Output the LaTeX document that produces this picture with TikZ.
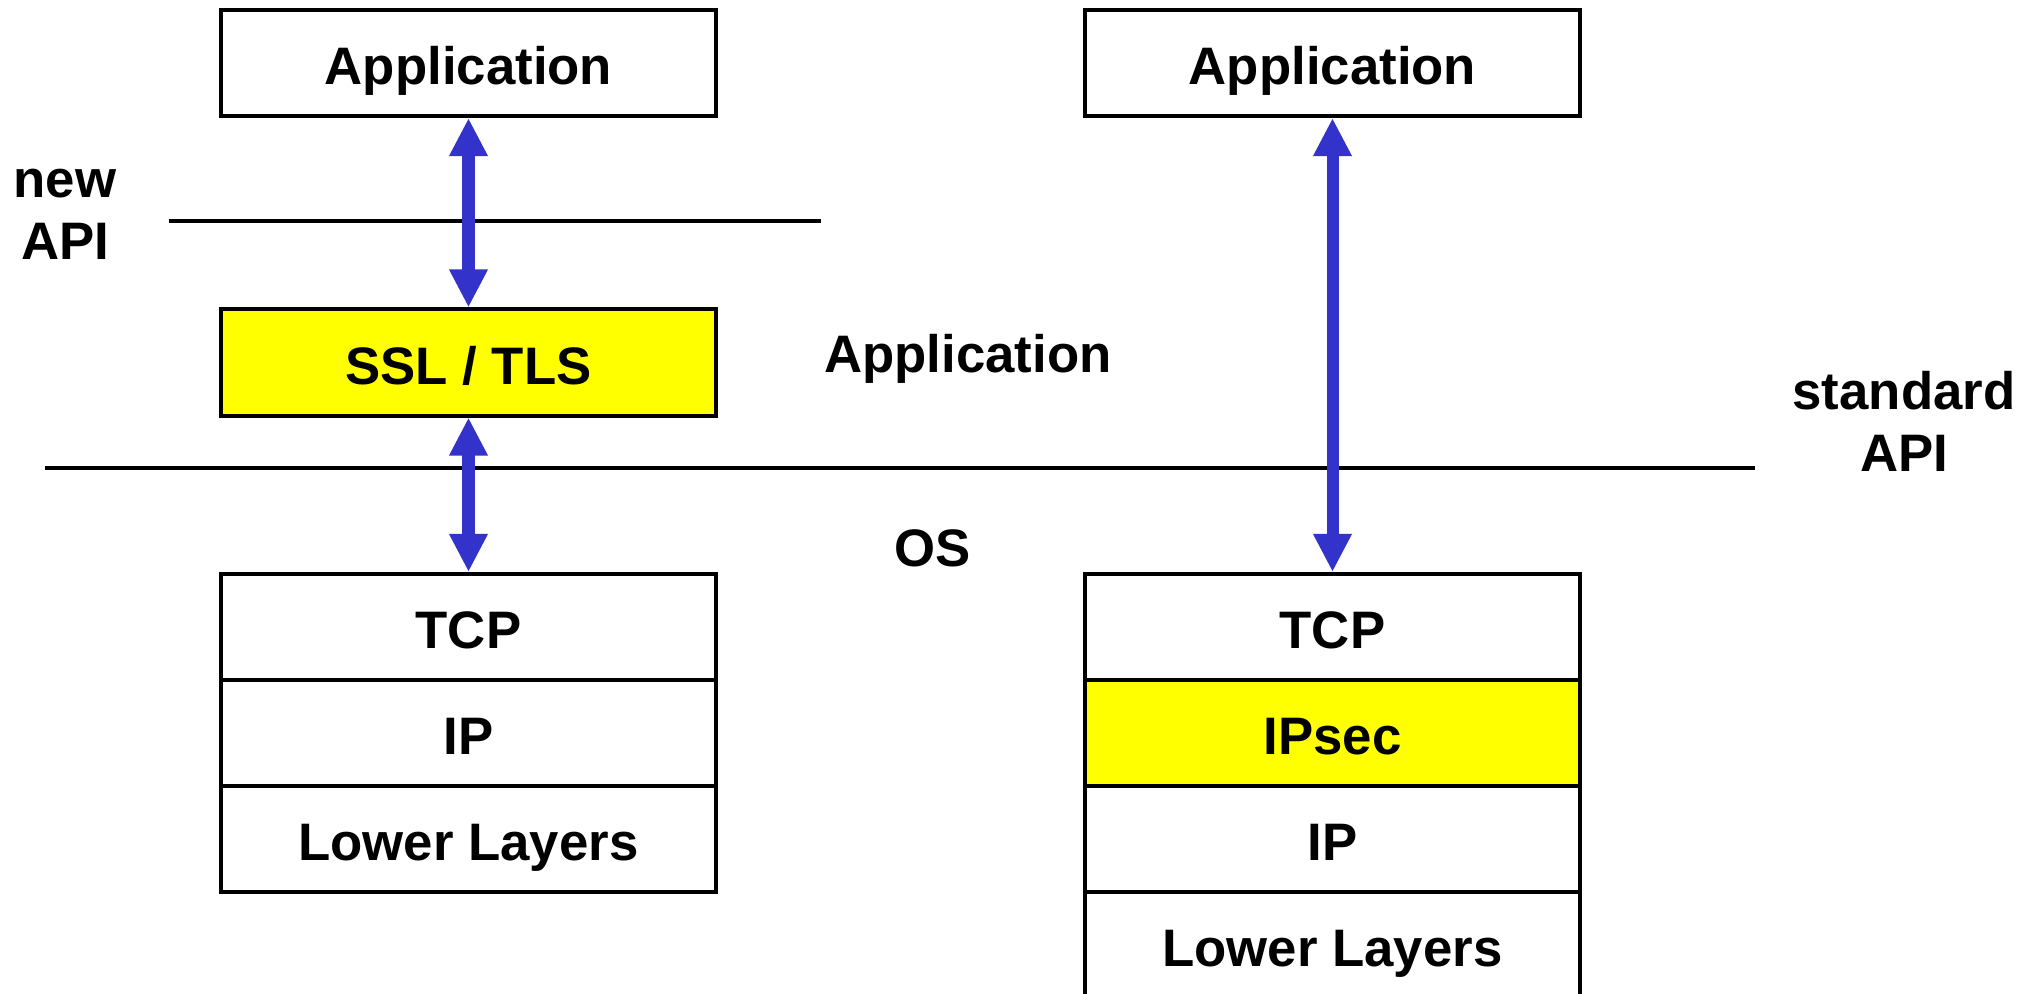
\documentclass[tikz,border=0pt]{standalone}
\usepackage{fontspec}
\setmainfont{Liberation Sans}
\usetikzlibrary{arrows.meta}
\definecolor{linkblue}{RGB}{51,51,204}
\definecolor{secyellow}{RGB}{255,255,0}
\begin{document}
\begin{tikzpicture}[x=0.01cm,y=-0.01cm,
  txt/.style={font=\bfseries\fontsize{15}{17.6}\selectfont},
  layer/.style={txt, draw=black, line width=0.04cm, fill=white,
    minimum width=4.95cm, minimum height=1.06cm, inner sep=0pt,
    text height=0.48cm, text depth=0.05cm},
  secure/.style={layer, fill=secyellow},
  caption/.style={txt, align=center, inner sep=0pt},
  boundary/.style={draw=black, line width=0.04cm},
  tipshape/.tip={Triangle[width=0.36cm,length=0.38cm]},
  link/.style={draw=linkblue, line width=0.12cm, tipshape-tipshape}]
\useasboundingbox (0,0) rectangle (2038,994);
\clip (0,0) rectangle (2038,994);

% API boundaries
\coordinate (newA) at (169,221);
\coordinate (newB) at (821,221);
\coordinate (stdA) at (45,468);
\coordinate (stdB) at (1755,468);
\draw[boundary] (newA) -- (newB);
\draw[boundary] (stdA) -- (stdB);

% left stack: security above the socket interface
\node[layer]  (appL) at (468.5,63)    {Application};
\node[secure] (ssl)  at (468.5,362.5) {SSL / TLS};
\node[layer]  (tcpL) at (468.5,627)   {TCP};
\node[layer]  (ipL)  at (468.5,733)   {IP};
\node[layer]  (lowL) at (468.5,839)   {Lower Layers};

% right stack: security inside the network layer
\node[layer]  (appR)  at (1332.5,63)  {Application};
\node[layer]  (tcpR)  at (1332.5,627) {TCP};
\node[secure] (ipsec) at (1332.5,733) {IPsec};
\node[layer]  (ipR)   at (1332.5,839) {IP};
\node[layer]  (lowR)  at (1332.5,945) {Lower Layers};

% calls across the interfaces
\draw[link] (appL.south) -- (ssl.north);
\draw[link] (ssl.south) -- (tcpL.north);
\draw[link] (appR.south) -- (tcpR.north);

% captions
\node[caption] (newapi) at (65,214)   {new\\API};
\node[caption] (applbl) at (968,359)  {Application};
\node[caption] (oslbl)  at (933,548)  {OS};
\node[caption] (stdapi) at (1904,421) {standard\\API};
\end{tikzpicture}
\end{document}
